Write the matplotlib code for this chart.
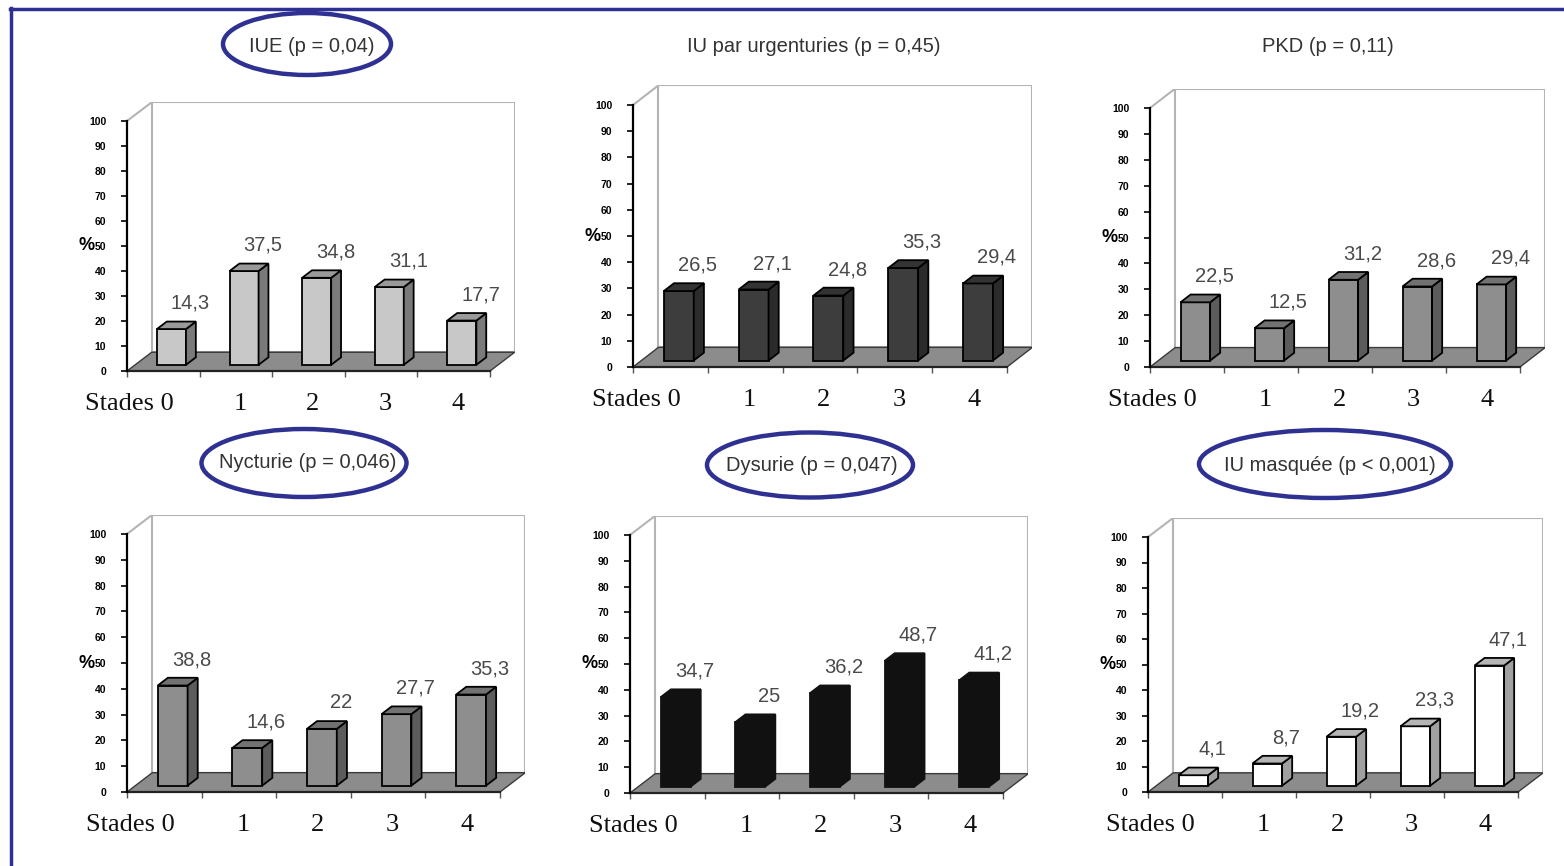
import numpy as np
import matplotlib
matplotlib.use('Agg')
import matplotlib.pyplot as plt
from matplotlib.patches import Polygon, Ellipse
from matplotlib.lines import Line2D

# data (% per stage)
stades = ['Stades 0', '1', '2', '3', '4']
iue = [14.3, 37.5, 34.8, 31.1, 17.7]
iu_urgenturies = [26.5, 27.1, 24.8, 35.3, 29.4]
pkd = [22.5, 12.5, 31.2, 28.6, 29.4]
nycturie = [38.8, 14.6, 22, 27.7, 35.3]
dysurie = [34.7, 25, 36.2, 48.7, 41.2]
iu_masquee = [4.1, 8.7, 19.2, 23.3, 47.1]

titles = ['IUE (p = 0,04)', 'IU par urgenturies (p = 0,45)', 'PKD (p = 0,11)',
          'Nycturie (p = 0,046)', 'Dysurie (p = 0,047)', 'IU masquée (p < 0,001)']

W, H = 1564, 866
fig = plt.figure(figsize=(W / 100, H / 100), dpi=100)
fig.patch.set_facecolor('white')

SANS = 'Liberation Sans'
SERIF = 'Liberation Serif'
BLUE = '#2e3192'

# pseudo 3d geometry (depth in category units / % units)
DX, DY = 0.34, 7.5
F0, DEPTH = 0.33, 0.4
BW = 0.4


def panel(geom, values, front, side, top, edge='black'):
    xa, y0, y100, xr = geom
    wpx = (xr - xa) * (5 + DX) / 5
    hpx = (y0 - y100) * (100 + DY) / 100
    ax = fig.add_axes([xa / W, 1 - y0 / H, wpx / W, hpx / H])
    ax.set_xlim(-0.5, 4.5 + DX)
    ax.set_ylim(0, 100 + DY)
    ax.patch.set_visible(False)

    # back wall, left wall edge, floor
    ax.add_patch(Polygon([(-0.5 + DX, DY), (4.5 + DX, DY), (4.5 + DX, 100 + DY), (-0.5 + DX, 100 + DY)],
                         closed=True, fc='white', ec='#b4b4b4', lw=1.5, zorder=0.5))
    ax.plot([-0.5, -0.5 + DX], [100, 100 + DY], color='#b4b4b4', lw=1.5, zorder=0.6)
    ax.add_patch(Polygon([(-0.5, 0), (4.5, 0), (4.5 + DX, DY), (-0.5 + DX, DY)],
                         closed=True, fc='#8c8c8c', ec='#3a3a3a', lw=1, zorder=1))

    x = np.arange(len(values))
    xc = x + F0 * DX
    yb = F0 * DY
    ax.bar(xc, values, width=BW, bottom=yb, color=front, edgecolor=edge, lw=1.3, zorder=3)
    ddx, ddy = DEPTH * DX, DEPTH * DY
    for xi, v in zip(xc, values):
        x0, x1 = xi - BW / 2, xi + BW / 2
        ax.add_patch(Polygon([(x1, yb), (x1 + ddx, yb + ddy), (x1 + ddx, yb + v + ddy), (x1, yb + v)],
                             closed=True, fc=side, ec=edge, lw=1.3, zorder=3))
        ax.add_patch(Polygon([(x0, yb + v), (x1, yb + v), (x1 + ddx, yb + v + ddy), (x0 + ddx, yb + v + ddy)],
                             closed=True, fc=top, ec=edge, lw=1.3, zorder=3))
        ax.annotate(f'{v:g}'.replace('.', ','), xy=(xi, yb + v), xytext=(19, 26),
                    textcoords='offset pixels', ha='center', va='center',
                    fontsize=14.5, color='#4a4a4a', family=SANS)

    for i, lab in enumerate(stades):
        if i == 0:
            ax.annotate(lab, xy=(i, 0), xytext=(10, -33), textcoords='offset pixels',
                        ha='right', va='center', fontsize=19, family=SERIF, color='#111')
        else:
            ax.annotate(lab, xy=(i, 0), xytext=(4, -33), textcoords='offset pixels',
                        ha='center', va='center', fontsize=19, family=SERIF, color='#111')

    ax.spines['top'].set_visible(False)
    ax.spines['right'].set_visible(False)
    ax.spines['left'].set_bounds(0, 100)
    ax.spines['left'].set_linewidth(1.6)
    ax.spines['bottom'].set_bounds(-0.5, 4.5)
    ax.spines['bottom'].set_linewidth(1.6)
    ax.spines['bottom'].set_color('#222')
    ax.spines['left'].set_zorder(4)

    ax.set_yticks(range(0, 101, 10))
    ax.tick_params(axis='y', length=4, width=1.2, pad=11, labelsize=7.5)
    for t in ax.get_yticklabels():
        t.set_fontweight('bold')
        t.set_family(SANS)
    ax.set_xticks([])
    ax.set_xticks(np.arange(-0.5, 5), minor=True)
    ax.tick_params(axis='x', which='minor', length=4, width=1, color='#555')

    ax.annotate('%', xy=(-0.5, 50), xytext=(-40, 0), textcoords='offset pixels',
                ha='center', va='center', fontsize=13, fontweight='bold', family=SANS)
    return ax


geoms = [(127, 371, 121, 490), (633, 367, 105, 1007), (1150, 367, 108, 1520),
         (127, 792, 534, 500), (630, 793, 535, 1003), (1148, 792, 537, 1518)]
series = [iue, iu_urgenturies, pkd, nycturie, dysurie, iu_masquee]
styles = [('#c8c8c8', '#7a7a7a', '#9a9a9a', 'black'),
          ('#3d3d3d', '#2b2b2b', '#333333', 'black'),
          ('#8e8e8e', '#5c5c5c', '#727272', 'black'),
          ('#8e8e8e', '#5c5c5c', '#727272', 'black'),
          ('#111111', '#111111', '#111111', '#111111'),
          ('white', '#a0a0a0', '#b5b5b5', 'black')]

for g, vals, st in zip(geoms, series, styles):
    panel(g, vals, *st)

# titles and circles
title_pos = [(312, 46), (814, 46), (1328, 47), (308, 463), (812, 466), (1330, 466)]
ellipses = [(307, 44, 168, 62), None, None, (304, 463, 205, 68), (810, 465, 206, 65), (1325, 464, 252, 68)]
for (cx, cy), t, e in zip(title_pos, titles, ellipses):
    fig.text(cx / W, 1 - cy / H, t, ha='center', va='center', fontsize=14.5, color='#333', family=SANS)
    if e is not None:
        ex, ey, ew, eh = e
        fig.add_artist(Ellipse((ex / W, 1 - ey / H), ew / W, eh / H, transform=fig.transFigure,
                               fill=False, ec=BLUE, lw=3.2))

# blue frame (top and left edges visible)
fig.add_artist(Line2D([11 / W, 11 / W], [0, 1 - 8 / H], transform=fig.transFigure, color=BLUE, lw=2.5))
fig.add_artist(Line2D([10 / W, 1], [1 - 9 / H, 1 - 9 / H], transform=fig.transFigure, color=BLUE, lw=2.5))

fig.savefig('out.png', dpi=100)
